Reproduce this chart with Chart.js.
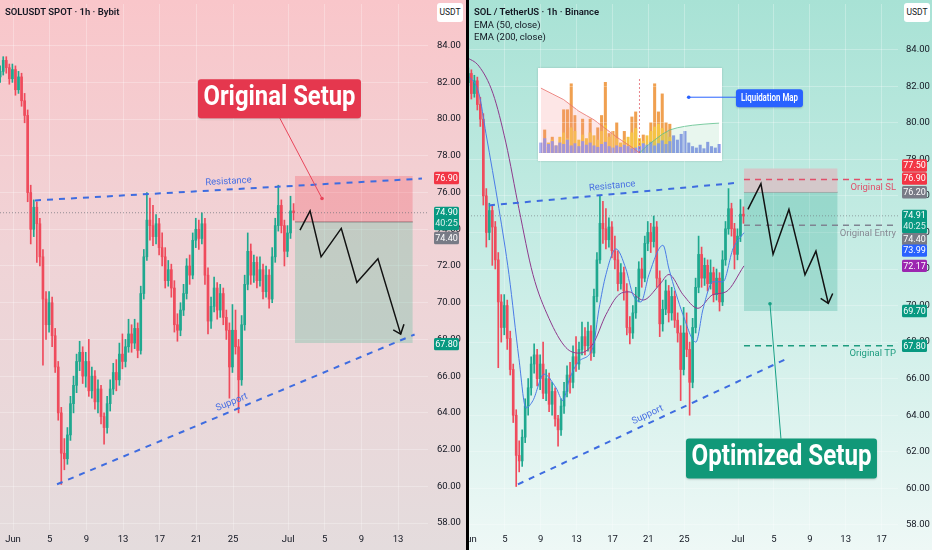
<!DOCTYPE html>
<html>
<head>
<meta charset="utf-8">
<script src="https://cdn.jsdelivr.net/npm/chart.js@4.4.1/dist/chart.umd.min.js"></script>
<style>
html, body { margin: 0; padding: 0; background: #000; }
body { width: 932px; height: 550px; position: relative; overflow: hidden; font-family: Roboto, "Noto Sans", sans-serif; }
.pane { position: absolute; top: 0; height: 550px; overflow: hidden; }
#leftPane { left: 0; width: 466px; background: linear-gradient(#f9c6ca, #f0d3d6 45%, #e4dcdd); }
#rightPane { left: 469px; width: 463px; background: linear-gradient(#a8e2d5, #c9ede6 50%, #eef8f6); }
/* canvases start a little left of their pane: Chart.js keeps a 4px gutter we want hidden */
#leftBox { position: absolute; left: -4px; top: 0; width: 470px; height: 100%; }
#rightBox { position: absolute; left: -20px; top: 0; width: 483px; height: 100%; }
.hdr { position: absolute; left: 5px; top: 6px; font-size: 9.5px; color: #131722; line-height: 12.6px; }
.hdr b { font-weight: 600; }
.usdt { position: absolute; top: 3px; width: 26px; height: 19px; background: #fff; border-radius: 3px; font-size: 8.5px; color: #131722; text-align: center; line-height: 19px; }
#inset { position: absolute; left: 69px; top: 68px; width: 184px; height: 93px; background: #fff; box-shadow: 0 0 2px rgba(0,0,0,.18); }
</style>
</head>
<body>
<div id="leftPane" class="pane">
  <div id="leftBox"><canvas id="leftChart"></canvas></div>
  <div class="hdr"><b>SOLUSDT SPOT · 1h · Bybit</b></div>
  <div class="usdt" style="left:437px">USDT</div>
</div>
<div id="rightPane" class="pane">
  <div id="inset"><canvas id="liqChart"></canvas></div>
  <div id="rightBox"><canvas id="rightChart"></canvas></div>
  <div class="hdr"><b>SOL / TetherUS · 1h · Binance</b><br>EMA (50, close)<br>EMA (200, close)</div>
  <div class="usdt" style="left:435px">USDT</div>
</div>

<script>
// ---- candles (SOL/USDT, 8h buckets), [open, high, low, close]
// day axis: 1 = Jun 1, 31 = Jul 1
const candleStart = -0.4;
const candleStep = 1 / 3;
const candles = [
  [82.3, 82.9, 82.0, 82.6], [82.6, 83.4, 82.4, 83.2], [83.2, 83.4, 82.5, 82.8], [82.8, 83.0, 81.9, 82.2],
  [82.2, 83.0, 82.0, 82.7], [82.7, 82.9, 81.3, 81.6], [81.6, 82.6, 81.4, 82.3], [82.3, 82.5, 80.7, 81.0],
  [81.0, 81.4, 79.8, 80.2], [80.2, 80.5, 75.5, 76.0], [76.0, 76.4, 73.2, 74.0], [74.0, 75.6, 73.6, 75.2],
  [75.2, 75.5, 72.2, 74.3], [74.3, 74.6, 72.0, 72.5], [72.5, 72.9, 66.6, 70.2], [70.2, 70.6, 68.0, 68.8],
  [68.8, 70.6, 68.4, 70.0], [70.0, 70.3, 67.6, 68.2], [68.2, 68.6, 66.2, 66.5], [66.5, 66.8, 63.6, 64.0],
  [64.0, 64.3, 60.1, 61.8], [61.8, 62.6, 60.9, 61.5], [61.5, 63.2, 61.2, 62.8], [62.8, 64.9, 62.5, 64.5],
  [64.5, 66.0, 64.0, 65.5], [65.5, 67.2, 65.1, 66.8], [66.8, 67.9, 66.3, 67.3], [67.3, 67.6, 65.6, 66.0],
  [66.0, 67.3, 65.4, 66.8], [66.8, 68.0, 64.9, 65.2], [65.2, 66.5, 64.8, 66.0], [66.0, 66.3, 64.2, 64.6],
  [64.6, 65.8, 64.0, 65.3], [65.3, 65.5, 63.4, 63.8], [63.8, 64.0, 62.3, 63.2], [63.2, 64.9, 62.9, 64.5],
  [64.5, 65.8, 64.1, 65.3], [65.3, 66.7, 65.0, 66.2], [66.2, 66.9, 65.2, 65.8], [65.8, 67.8, 65.5, 67.2],
  [67.2, 68.3, 66.4, 66.8], [66.8, 68.0, 66.5, 67.6], [67.6, 69.1, 67.3, 68.3], [68.3, 68.8, 67.3, 67.8],
  [67.8, 69.1, 67.5, 68.6], [68.6, 68.9, 67.0, 67.4], [67.4, 70.9, 67.2, 70.5], [70.5, 72.9, 70.2, 72.5],
  [72.5, 76.0, 72.3, 74.5], [74.5, 75.7, 73.4, 74.2], [74.2, 75.3, 73.1, 73.6], [73.6, 74.8, 73.2, 74.3],
  [74.3, 74.6, 72.6, 73.0], [73.0, 73.8, 72.0, 72.5], [72.5, 73.0, 70.8, 71.2], [71.2, 72.3, 70.9, 71.8],
  [71.8, 72.1, 70.3, 70.8], [70.8, 71.2, 68.4, 68.8], [68.8, 69.4, 67.9, 68.5], [68.5, 70.0, 68.2, 69.6],
  [69.6, 71.0, 69.3, 70.5], [70.5, 72.4, 70.2, 72.0], [72.0, 72.6, 71.0, 71.5], [71.5, 73.8, 71.3, 73.4],
  [73.4, 74.6, 73.0, 74.0], [74.0, 74.5, 72.9, 73.5], [73.5, 74.9, 73.2, 74.3], [74.3, 74.6, 71.0, 71.5],
  [71.5, 71.9, 68.3, 69.0], [69.0, 70.3, 68.6, 69.8], [69.8, 71.4, 69.5, 70.8], [70.8, 71.1, 69.1, 69.6],
  [69.6, 71.0, 69.2, 70.5], [70.5, 70.8, 68.8, 69.2], [69.2, 69.6, 68.0, 68.5], [68.5, 68.9, 64.8, 66.5],
  [66.5, 69.9, 66.2, 68.5], [68.5, 69.6, 67.2, 67.6], [67.6, 68.0, 64.0, 65.8], [65.8, 69.3, 65.5, 68.8],
  [68.8, 71.5, 68.5, 71.0], [71.0, 73.8, 70.7, 72.8], [72.8, 73.2, 71.0, 71.5], [71.5, 72.6, 71.1, 72.2],
  [72.2, 72.5, 70.8, 71.2], [71.2, 72.5, 70.9, 71.8], [71.8, 72.1, 70.2, 70.6], [70.6, 72.0, 70.3, 71.5],
  [71.5, 71.8, 69.7, 70.2], [70.2, 73.0, 70.0, 72.5], [72.5, 74.6, 72.2, 74.2], [74.2, 76.4, 73.9, 75.3],
  [75.3, 75.6, 73.8, 74.2], [74.2, 74.5, 72.0, 72.8], [72.8, 74.2, 72.5, 73.8], [73.8, 75.8, 73.5, 75.0],
  [75.0, 75.4, 74.5, 74.9]
];

// ---- EMA lines (right panel), [day, price]
const ema50 = [
  [0.67, 82.7], [2.11, 81.6], [2.9, 79.4], [4.34, 75.3], [5.46, 71.7], [6.57, 67.1], [7.35, 64.4],
  [8.13, 64.8], [9.36, 66.25], [10.7, 65.5], [11.48, 64.8], [12.15, 65.9], [13.26, 66.95], [14.82, 67.7],
  [15.49, 69.8], [16.27, 71.7], [17.39, 73.1], [18.5, 72.0], [19.28, 70.6], [20.17, 70.2], [21.07, 71.7],
  [22.63, 73.3], [23.3, 72.0], [24.86, 69.5], [26.3, 68.0], [27.09, 69.8], [28.2, 71.3], [29.32, 71.3],
  [30.43, 73.1], [31.66, 73.99]
];
const ema200 = [
  [0.67, 83.6], [2.11, 83.1], [3.68, 81.6], [5.12, 78.9], [6.57, 75.3], [8.13, 71.7], [9.92, 69.3],
  [11.81, 67.7], [13.26, 67.4], [14.82, 67.9], [16.27, 69.5], [17.72, 70.6], [18.84, 70.75], [20.4, 70.3],
  [22.18, 71.1], [23.3, 71.7], [24.86, 70.6], [26.53, 69.85], [28.2, 70.6], [29.65, 70.75], [31.66, 72.17]
];

// ---- drawings, [day, price]
const leftResistance = [[3.4, 75.57], [45.6, 76.76]];
const leftSupport = [[5.8, 60.11], [44.8, 68.27]];
const leftZigzag = [[32.3, 73.95], [33.4, 75.0], [34.6, 72.5], [36.8, 74.05], [38.5, 71.1], [40.8, 72.4], [43.28, 68.29]];
const leftArrowHead = [[42.47, 68.52], [43.28, 68.29], [43.64, 68.83]];
const leftSetupLink = [[30.1, 80.05], [34.7, 75.68]];
const leftTrade = { from: 31.75, to: 44.6, stop: 76.90, entry: 74.40, target: 67.80 };
const leftLast = 74.90;

const rightResistance = [[3.23, 75.48], [31.2, 76.73]];
const rightSupport = [[6.46, 60.22], [36.56, 67.12]];
const rightZigzag = [[32.1, 75.26], [33.55, 76.67], [34.9, 72.8], [36.67, 75.26], [38.46, 71.68], [39.68, 72.98], [41.06, 70.12]];
const rightArrowHead = [[40.21, 70.39], [41.06, 70.12], [41.55, 70.66]];
const rightSetupLink = [[34.56, 70.1], [35.78, 62.72]];
const liqLink = [[25.5, 81.4], [30.77, 81.4]];
const rightTrade = { from: 31.66, to: 42.1, stop: 77.50, entry: 76.20, target: 69.70 };
const originalLevels = { sl: 76.90, entry: 74.40, tp: 67.80 };
const rightLast = 74.91;

// ---- axes
const yTicks = [58, 60, 62, 64, 66, 68, 70, 72, 74, 76, 78, 80, 82, 84];
const leftXTicks = [1, 5, 9, 13, 17, 21, 25, 31, 35, 39, 43];
const rightXTicks = [1, 5, 9, 13, 17, 21, 25, 31, 35, 39, 43, 47];
const xTickLabels = ['Jun', '5', '9', '13', '17', '21', '25', 'Jul', '5', '9', '13', '17'];

// ---- liquidation map inset (relative heights)
const liqOrange = [0,32,0,22,0,0,60,60,96,52,0,47,0,47,0,35,52,98,27,30,42,0,30,0,50,57,0,25,0,42,96,57,82,42,40,0,0,0,0,0,0,0,0,0,0,0,0,0];
const liqYellow = [0,8,14,18,10,22,28,20,35,30,18,25,20,28,24,18,30,38,22,26,20,14,18,22,28,34,20,16,24,30,36,40,34,28,22,0,0,0,0,0,0,0,0,0,0,0,0,0];
const liqBlue = [14,20,12,16,10,14,12,18,10,13,9,16,11,14,10,8,12,15,9,7,10,8,11,9,6,7,9,13,11,15,10,13,17,12,16,24,18,26,30,14,9,7,11,6,15,9,7,12];
const liqShortCum = [[0,90],[3,82],[6,74],[8,66],[10,58],[12,52],[14,46],[16,38],[18,30],[20,22],[22,15],[24,8],[26,0]];
const liqLongCum = [[26,0],[28,10],[30,18],[32,26],[34,32],[36,35],[38,37],[40,38.5],[43,40],[47,41.5]];
const liqNowSlot = 26;

// ---------------------------------------------------------------
const FONT = 'Roboto, "Noto Sans", sans-serif';
const UP = '#1fa88f', DOWN = '#ef4b5c';
const pts = arr => arr.map(p => ({ x: p[0], y: p[1] }));
const candleDay = i => candleStart + i * candleStep;

function candleSets() {
  const col = ctx => { const c = candles[ctx.dataIndex]; return c && c[3] >= c[0] ? UP : DOWN; };
  return [
    { type: 'bar', data: candles.map((c, i) => ({ x: candleDay(i), y: [c[0], c[3]] })),
      backgroundColor: col, barThickness: 2, grouped: false, borderWidth: 0 },
    { type: 'bar', data: candles.map((c, i) => ({ x: candleDay(i), y: [c[2], c[1]] })),
      backgroundColor: col, barThickness: 1, grouped: false, borderWidth: 0 }
  ];
}
function line(data, color, width, dash, extra) {
  return Object.assign({ type: 'line', data: pts(data), borderColor: color, borderWidth: width,
    borderDash: dash || [], pointRadius: 0, fill: false, tension: 0 }, extra || {});
}
function hline(v, a, b, color, width, dash) {
  return line([[a, v], [b, v]], color, width, dash);
}
function tradeBox(t, stopFill, targetFill, midColor) {
  return [
    line([[t.from, t.stop], [t.to, t.stop]], 'rgba(0,0,0,0)', 0, null, { fill: '+1', backgroundColor: stopFill }),
    line([[t.from, t.entry], [t.to, t.entry]], midColor, 1, null, { fill: '+1', backgroundColor: targetFill }),
    line([[t.from, t.target], [t.to, t.target]], 'rgba(0,0,0,0)', 0)
  ];
}

// x tick labels are painted by the overlay so the first one may be cut by the pane edge
function scalesFor(xr, yr, xTicks, yAxisWidth, yPad) {
  return {
    x: {
      type: 'linear', min: xr[0], max: xr[1], offset: false,
      afterBuildTicks: s => { s.ticks = xTicks.map(v => ({ value: v })); },
      afterFit: s => { s.height = 20; s.paddingLeft = 0; s.paddingRight = 0; },
      grid: { color: 'rgba(255,255,255,0.28)', drawTicks: false, offset: false },
      border: { display: false },
      ticks: { display: false }
    },
    y: {
      position: 'right', min: yr[0], max: yr[1],
      afterBuildTicks: s => { s.ticks = yTicks.map(v => ({ value: v })); },
      afterFit: s => { s.width = yAxisWidth; s.paddingTop = 0; s.paddingBottom = 0; },
      grid: { color: 'rgba(255,255,255,0.28)', drawTicks: false },
      border: { display: false },
      ticks: { padding: yPad, color: '#131722', font: { family: FONT, size: 9.5 }, callback: v => v.toFixed(2) }
    }
  };
}

function roundRect(ctx, x, y, w, h, r) {
  ctx.beginPath();
  ctx.moveTo(x + r, y); ctx.lineTo(x + w - r, y); ctx.quadraticCurveTo(x + w, y, x + w, y + r);
  ctx.lineTo(x + w, y + h - r); ctx.quadraticCurveTo(x + w, y + h, x + w - r, y + h);
  ctx.lineTo(x + r, y + h); ctx.quadraticCurveTo(x, y + h, x, y + h - r);
  ctx.lineTo(x, y + r); ctx.quadraticCurveTo(x, y, x + r, y); ctx.closePath();
}

function overlay(cfg) {
  return {
    id: 'overlay',
    afterDatasetsDraw(chart) {
      const { ctx, chartArea: a, scales: { x, y } } = chart;
      ctx.save();
      ctx.beginPath(); ctx.rect(a.left, a.top, a.right - a.left, a.bottom - a.top); ctx.clip();
      // labels along the trend lines
      (cfg.trendLabels || []).forEach(t => {
        const [p0, p1] = t.line;
        const x0 = x.getPixelForValue(p0[0]), y0 = y.getPixelForValue(p0[1]);
        const x1 = x.getPixelForValue(p1[0]), y1 = y.getPixelForValue(p1[1]);
        const px = x.getPixelForValue(t.at);
        const py = y0 + (y1 - y0) * (px - x0) / (x1 - x0);
        ctx.save();
        ctx.translate(px, py); ctx.rotate(Math.atan2(y1 - y0, x1 - x0));
        ctx.font = '9.5px ' + FONT; ctx.fillStyle = t.color; ctx.textAlign = 'center'; ctx.textBaseline = 'middle';
        ctx.fillText(t.text, 0, -8);
        ctx.restore();
      });
      // names under the horizontal levels
      (cfg.levelLabels || []).forEach(l => {
        ctx.font = '9.5px ' + FONT; ctx.fillStyle = l.color; ctx.textAlign = 'right'; ctx.textBaseline = 'middle';
        ctx.fillText(l.text, a.right - 2, y.getPixelForValue(l.value) + 8);
      });
      // callout boxes
      (cfg.callouts || []).forEach(b => {
        const cx = x.getPixelForValue(b.at[0]), cy = y.getPixelForValue(b.at[1]);
        ctx.save();
        ctx.shadowColor = 'rgba(0,0,0,0.18)'; ctx.shadowBlur = 2; ctx.shadowOffsetY = 1;
        roundRect(ctx, cx - b.w / 2, cy - b.h / 2, b.w, b.h, 3);
        ctx.fillStyle = b.color; ctx.fill();
        ctx.restore();
        ctx.save();
        ctx.font = b.font; ctx.fillStyle = '#fff'; ctx.textAlign = 'center'; ctx.textBaseline = 'middle';
        const tw = ctx.measureText(b.text).width;
        ctx.translate(cx, cy + (b.dy || 0)); ctx.scale(Math.min(1, b.textW / tw), 1);
        ctx.fillText(b.text, 0, 0);
        ctx.restore();
      });
      ctx.restore();
    },
    afterDraw(chart) {
      const { ctx, chartArea: a, scales: { x, y } } = chart;
      ctx.save();
      // time axis labels
      ctx.font = '9.5px ' + FONT; ctx.fillStyle = '#131722'; ctx.textAlign = 'center'; ctx.textBaseline = 'middle';
      cfg.xTicks.forEach((v, i) => ctx.fillText(xTickLabels[i], x.getPixelForValue(v), a.bottom + 9.5));
      // price tags on the axis
      (cfg.tags || []).forEach(t => {
        const ly = y.getPixelForValue(t.value);
        const x0 = a.right + cfg.tagX, w = 25;
        ctx.fillStyle = t.color;
        ctx.font = '9px ' + FONT; ctx.textAlign = 'center'; ctx.textBaseline = 'middle';
        if (t.sub) {
          roundRect(ctx, x0, ly - 6, w, 23.5, 1.5); ctx.fill();
          ctx.fillStyle = '#fff'; ctx.fillText(t.value.toFixed(2), x0 + w / 2, ly);
          ctx.fillStyle = 'rgba(255,255,255,0.85)'; ctx.fillText(t.sub, x0 + w / 2, ly + 11);
        } else {
          const cy = ly + (t.dy || 0);
          roundRect(ctx, x0, cy - 6.2, w, 12.4, 1.5); ctx.fill();
          ctx.fillStyle = '#fff'; ctx.fillText(t.value.toFixed(2), x0 + w / 2, cy + 0.5);
        }
      });
      ctx.restore();
    }
  };
}

const baseOptions = (scales) => ({
  responsive: true, maintainAspectRatio: false, animation: false,
  layout: { padding: 0 },
  plugins: { legend: { display: false }, tooltip: { enabled: false } },
  scales
});

// ---- left: original setup
const leftX = [-0.418, 46.26], leftY = [57.62, 86.27];
new Chart(document.getElementById('leftChart'), {
  type: 'bar',
  data: {
    datasets: [
      line(leftZigzag, '#111', 1.5),
      line(leftArrowHead, '#111', 1.5),
      line(leftSetupLink, '#e8455a', 1, null, { pointRadius: [0, 1.8], pointBackgroundColor: '#e8455a', pointBorderWidth: 0 }),
      line(leftResistance, '#3e6ce0', 2, [6, 6]),
      line(leftSupport, '#3e6ce0', 2, [6, 6]),
      hline(leftLast, leftX[0], leftX[1], 'rgba(110,112,120,0.7)', 1, [1, 2]),
      ...candleSets(),
      ...tradeBox(leftTrade, 'rgba(242,54,69,0.24)', 'rgba(90,190,155,0.3)', 'rgba(110,110,110,0.8)')
    ]
  },
  options: baseOptions(scalesFor(leftX, leftY, leftXTicks, 38, 9)),
  plugins: [overlay({
    tagX: 6,
    xTicks: leftXTicks,
    trendLabels: [
      { line: leftResistance, at: 24.55, text: 'Resistance', color: '#4a70e2' },
      { line: leftSupport, at: 25.2, text: 'Support', color: '#4a70e2' }
    ],
    callouts: [
      { at: [30.06, 81.11], w: 163, h: 39, color: '#e5374e', text: 'Original Setup', font: 'bold 28px ' + FONT, textW: 152, dy: -1 }
    ],
    tags: [
      { value: 76.90, color: '#f23645', dy: 2 },
      { value: 74.90, sub: '40:25', color: '#089981' },
      { value: 74.40, color: '#787b86', dy: 16 },
      { value: 67.80, color: '#089981', dy: 1 }
    ]
  })]
});

// ---- right: optimized setup
const rightX = [-0.78, 48.83], rightY = [57.72, 86.50];
new Chart(document.getElementById('rightChart'), {
  type: 'bar',
  data: {
    datasets: [
      line(rightZigzag, '#111', 1.5),
      line(rightArrowHead, '#111', 1.5),
      line(rightSetupLink, '#17a085', 1, null, { pointRadius: [1.8, 0], pointBackgroundColor: '#17a085', pointBorderWidth: 0 }),
      line(liqLink, '#2962ff', 1, null, { pointRadius: [1.8, 0], pointBackgroundColor: '#2962ff', pointBorderWidth: 0 }),
      hline(originalLevels.sl, rightTrade.from, rightX[1], '#e0506a', 1.5, [6, 5]),
      hline(originalLevels.entry, rightTrade.from, rightX[1], '#7f8391', 1.5, [6, 5]),
      hline(originalLevels.tp, rightTrade.from, rightX[1], '#1e9c7f', 1.5, [6, 5]),
      line(rightResistance, '#3e6ce0', 2, [6, 6]),
      line(rightSupport, '#3e6ce0', 2, [6, 6]),
      line(ema50, '#4a7be6', 1, null, { cubicInterpolationMode: 'monotone' }),
      line(ema200, '#8e3a8c', 1, null, { cubicInterpolationMode: 'monotone' }),
      hline(rightLast, rightX[0], rightX[1], 'rgba(110,112,120,0.6)', 1, [1, 2]),
      ...candleSets(),
      ...tradeBox(rightTrade, 'rgba(214,196,200,0.92)', 'rgba(8,153,129,0.22)', 'rgba(120,120,120,0.7)')
    ]
  },
  options: baseOptions(scalesFor(rightX, rightY, rightXTicks, 34, 8)),
  plugins: [overlay({
    tagX: 4,
    xTicks: rightXTicks,
    trendLabels: [
      { line: rightResistance, at: 17.05, text: 'Resistance', color: '#4a70e2' },
      { line: rightSupport, at: 21.29, text: 'Support', color: '#4a70e2' }
    ],
    levelLabels: [
      { value: originalLevels.sl, text: 'Original SL', color: '#e0506a' },
      { value: originalLevels.entry, text: 'Original Entry', color: '#868993' },
      { value: originalLevels.tp, text: 'Original TP', color: '#1e9c7f' }
    ],
    callouts: [
      { at: [35.84, 61.63], w: 191, h: 40, color: '#119878', text: 'Optimized Setup', font: 'bold 29px ' + FONT, textW: 180, dy: -1 },
      { at: [34.5, 81.34], w: 67, h: 18, color: '#2962ff', text: 'Liquidation Map', font: '600 11px ' + FONT, textW: 57 }
    ],
    tags: [
      { value: 77.50, color: '#f23645', dy: -3 },
      { value: 76.90, color: '#f23645', dy: -1 },
      { value: 76.20, color: '#787b86', dy: 0 },
      { value: 74.91, sub: '40:25', color: '#089981' },
      { value: 74.40, color: '#787b86', dy: 14 },
      { value: 73.99, color: '#2962ff', dy: 18 },
      { value: 72.17, color: '#9c27b0', dy: 0 },
      { value: 69.70, color: '#089981', dy: 0 },
      { value: 67.80, color: '#089981', dy: 0 }
    ]
  })]
});

// ---- liquidation map inset
new Chart(document.getElementById('liqChart'), {
  type: 'bar',
  data: {
    datasets: [
      line([[liqNowSlot, 0], [liqNowSlot, 104]], '#e0505a', 0.7, [2, 2]),
      line(liqShortCum, '#e8706a', 0.8, null, { fill: 'origin', backgroundColor: 'rgba(245,140,140,0.22)' }),
      line(liqLongCum, '#5cbf8a', 0.8, null, { fill: 'origin', backgroundColor: 'rgba(110,200,150,0.16)' }),
      { type: 'bar', data: liqBlue.map((v, i) => ({ x: i, y: v })), backgroundColor: '#8c98ee', barThickness: 2.4, grouped: false },
      { type: 'bar', data: liqYellow.map((v, i) => ({ x: i, y: v })), backgroundColor: '#f6c445', barThickness: 2.4, grouped: false },
      { type: 'bar', data: liqOrange.map((v, i) => ({ x: i, y: v })), backgroundColor: '#f0a050', barThickness: 2.4, grouped: false }
    ]
  },
  options: {
    responsive: true, maintainAspectRatio: false, animation: false,
    layout: { padding: { top: 10, bottom: 8, left: 1, right: 1 } },
    plugins: { legend: { display: false }, tooltip: { enabled: false } },
    scales: {
      x: { type: 'linear', min: -0.5, max: 47.5, display: false, offset: false },
      y: { min: 0, max: 104, display: false }
    }
  }
});
</script>
</body>
</html>
